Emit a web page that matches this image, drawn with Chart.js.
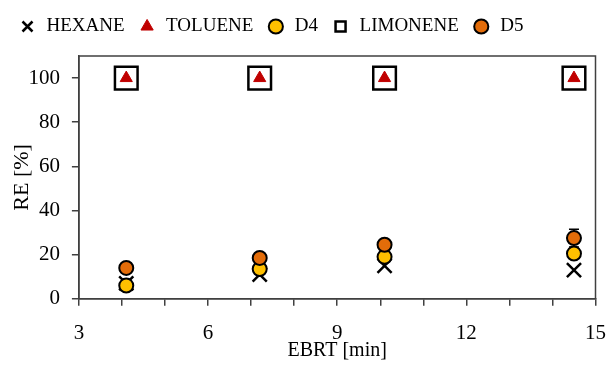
<!DOCTYPE html>
<html>
<head>
<meta charset="utf-8">
<script src="https://cdn.jsdelivr.net/npm/chart.js@4"></script>
<style>
  html, body { margin: 0; padding: 0; background: #fff; }
  #wrap { width: 614px; height: 365px; }
</style>
</head>
<body>
<div id="wrap"><canvas id="chart" width="614" height="365"></canvas></div>
<script>
// EBRT [min] for each sampling point
const ebrt = [4.1, 7.2, 10.1, 14.5];
const hexane = [7, 11, 15, 13];
const toluene = [100, 100, 100, 100];
const d4 = [6, 13.5, 19, 20.5];
const limonene = [100, 100, 100, 100];
const d5 = [14, 18.5, 24.5, 27.5];
const d5Err = [0, 0, 0, 4];
const xTicks = [3, 4, 5, 6, 7, 8, 9, 10, 11, 12, 13, 14, 15];
const yTicks = [0, 20, 40, 60, 80, 100];

const FONT = 'Liberation Serif';
const pts = (ys) => ebrt.map((x, i) => ({ x, y: ys[i] }));

// extra room under the legend
const legendGap = {
  id: 'legendGap',
  beforeInit(chart) {
    const fit = chart.legend.fit;
    chart.legend.fit = function () {
      fit.call(this);
      this.height += 10;
    };
  }
};

// box around the plot area (top + right edges)
const frame = {
  id: 'frame',
  afterDatasetsDraw(chart) {
    const { ctx, chartArea: a } = chart;
    ctx.save();
    ctx.strokeStyle = '#404040';
    ctx.lineWidth = 1.5;
    ctx.strokeRect(a.left, a.top, a.right - a.left, a.bottom - a.top);
    ctx.restore();
  }
};

// error bars for D5
const errorBars = {
  id: 'errorBars',
  beforeDatasetsDraw(chart) {
    const { ctx, scales } = chart;
    ctx.save();
    ctx.strokeStyle = '#000';
    ctx.lineWidth = 1.5;
    ebrt.forEach((x, i) => {
      if (!d5Err[i]) return;
      const px = scales.x.getPixelForValue(x);
      const top = scales.y.getPixelForValue(d5[i] + d5Err[i]);
      const bot = scales.y.getPixelForValue(d5[i] - d5Err[i]);
      ctx.beginPath();
      ctx.moveTo(px, top); ctx.lineTo(px, bot);
      ctx.moveTo(px - 5, top); ctx.lineTo(px + 5, top);
      ctx.moveTo(px - 5, bot); ctx.lineTo(px + 5, bot);
      ctx.stroke();
    });
    ctx.restore();
  }
};

new Chart(document.getElementById('chart'), {
  type: 'scatter',
  data: {
    datasets: [
      { label: 'HEXANE', data: pts(hexane), pointStyle: 'crossRot', pointRadius: 10,
        borderColor: '#000', backgroundColor: '#000', pointBorderWidth: 2.5, order: 3 },
      { label: 'TOLUENE', data: pts(toluene), pointStyle: 'triangle', pointRadius: 7,
        borderColor: '#c00000', backgroundColor: '#c00000', pointBorderWidth: 1, order: 0 },
      { label: 'D4', data: pts(d4), pointStyle: 'circle', pointRadius: 7,
        borderColor: '#000', backgroundColor: '#ffc000', pointBorderWidth: 2, order: 2 },
      { label: 'LIMONENE', data: pts(limonene), pointStyle: 'rect', pointRadius: 16,
        borderColor: '#000', backgroundColor: 'rgba(255,255,255,0)', pointBorderWidth: 2.5, order: 4 },
      { label: 'D5', data: pts(d5), pointStyle: 'circle', pointRadius: 7,
        borderColor: '#000', backgroundColor: '#e36c09', pointBorderWidth: 2, order: 1 }
    ]
  },
  options: {
    responsive: false,
    animation: false,
    layout: { padding: { top: 4, left: 5, right: -4, bottom: 2 } },
    plugins: {
      tooltip: { enabled: false },
      legend: {
        align: 'start',
        labels: {
          usePointStyle: true,
          boxHeight: 10,
          padding: 13,
          color: '#000',
          font: { family: FONT, size: 19 },
          sort: (a, b) => a.datasetIndex - b.datasetIndex
        }
      }
    },
    scales: {
      x: {
        type: 'linear', min: 3, max: 15,
        afterBuildTicks: (axis) => { axis.ticks = xTicks.map((v) => ({ value: v })); },
        afterFit: (axis) => { axis.paddingLeft = 0; axis.paddingRight = 0; },
        ticks: {
          color: '#000', font: { family: FONT, size: 21 }, maxRotation: 0, autoSkip: false, padding: 15,
          callback: (v) => (v % 3 === 0 ? v : '')
        },
        grid: { drawOnChartArea: false, color: '#404040', tickLength: 7, lineWidth: 1.5 },
        border: { color: '#404040', width: 1.5 },
        title: { display: true, text: 'EBRT [min]', color: '#000', font: { family: FONT, size: 20 },
          padding: { top: -22, bottom: 0 } }
      },
      y: {
        min: 0, max: 110,
        afterBuildTicks: (axis) => { axis.ticks = yTicks.map((v) => ({ value: v })); },
        ticks: { color: '#000', font: { family: FONT, size: 21 }, padding: 12 },
        grid: { drawOnChartArea: false, color: '#404040', tickLength: 7, lineWidth: 1.5 },
        border: { color: '#404040', width: 1.5 },
        title: { display: true, text: 'RE [%]', color: '#000', font: { family: FONT, size: 22 },
          padding: { top: 4, bottom: -19 } }
      }
    }
  },
  plugins: [legendGap, errorBars, frame]
});
</script>
</body>
</html>
